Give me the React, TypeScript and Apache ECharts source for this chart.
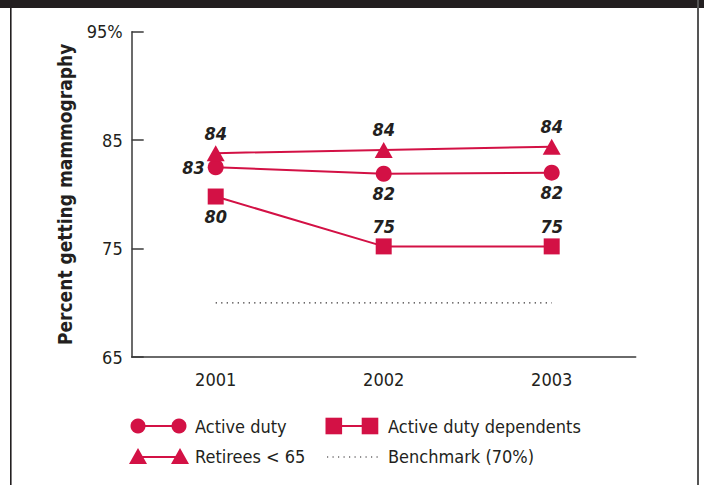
import React, { useEffect, useRef } from "react";
import * as echarts from "echarts";

const years = ["2001", "2002", "2003"];
const activeDuty = [82.5, 81.9, 82.0];
const activeDutyLabels = ["83", "82", "82"];
const dependents = [79.8, 75.2, 75.2];
const dependentsLabels = ["80", "75", "75"];
const retirees = [83.8, 84.1, 84.4];
const retireesLabels = ["84", "84", "84"];
const benchmark = [70, 70, 70];
const yTicks = [65, 75, 85, 95];

const RED = "#d31145";
const INK = "#231f20";
const FONT = "'DejaVu Sans Condensed', 'Liberation Sans', sans-serif";

export default function App() {
  const ref = useRef<HTMLDivElement>(null);
  useEffect(() => {
    if (!ref.current) return;
    const chart = echarts.init(ref.current, null, { renderer: "svg" });
    const labelStyle = {
      show: true,
      fontFamily: FONT,
      fontSize: 18,
      fontWeight: "bold" as const,
      fontStyle: "italic" as const,
      color: INK,
      distance: 3,
    };
    const mk = (vals: number[], labels: string[], positions: string[]) =>
      vals.map((v, i) => ({
        value: v,
        label: { ...labelStyle, position: positions[i], formatter: labels[i] },
      }));

    const legendY1 = 426;
    const legendY2 = 456;
    const legendFont = `18px ${FONT}`;
    chart.setOption({
      animation: false,
      textStyle: { fontFamily: FONT },
      grid: { left: 131.7, right: 68.3, top: 31.7, bottom: 128 },
      xAxis: {
        type: "category",
        data: years,
        boundaryGap: true,
        axisLine: { lineStyle: { color: "#3a3a3a", width: 1.5 } },
        axisTick: { inside: true, length: 6, lineStyle: { color: "#3a3a3a", width: 1.5 } },
        axisLabel: { color: INK, fontSize: 18, fontFamily: FONT, margin: 13 },
      },
      yAxis: {
        type: "value",
        min: 65,
        max: 95,
        interval: 10,
        splitLine: { show: false },
        axisLine: { show: true, lineStyle: { color: "#3a3a3a", width: 1.5 } },
        axisTick: { show: true, inside: true, length: 12, lineStyle: { color: "#3a3a3a", width: 1.5 } },
        axisLabel: {
          color: INK,
          fontSize: 18,
          fontFamily: FONT,
          margin: 9,
          formatter: (v: number) => (yTicks.includes(v) ? (v === 95 ? v + "%" : String(v)) : ""),
        },
        name: "Percent getting mammography",
        nameLocation: "middle",
        nameGap: 57,
        nameTextStyle: { color: INK, fontSize: 19, fontWeight: "bold", fontFamily: FONT },
      },
      series: [
        {
          name: "Benchmark (70%)",
          type: "line",
          data: benchmark,
          symbol: "none",
          lineStyle: { color: INK, width: 1.2, type: [1.2, 4.3] },
          z: 1,
        },
        {
          name: "Active duty dependents",
          type: "line",
          data: mk(dependents, dependentsLabels, ["bottom", "top", "top"]),
          symbol: "rect",
          symbolSize: 16,
          lineStyle: { color: RED, width: 2 },
          itemStyle: { color: RED },
        },
        {
          name: "Active duty",
          type: "line",
          data: mk(activeDuty, activeDutyLabels, ["left", "bottom", "bottom"]),
          symbol: "circle",
          symbolSize: 16,
          lineStyle: { color: RED, width: 2 },
          itemStyle: { color: RED },
        },
        {
          name: "Retirees < 65",
          type: "line",
          data: mk(retirees, retireesLabels, ["top", "top", "top"]),
          symbol: "triangle",
          symbolSize: [18, 16],
          lineStyle: { color: RED, width: 2 },
          itemStyle: { color: RED },
        },
      ],
      graphic: [
        { type: "rect", shape: { x: 0, y: 0, width: 704, height: 8 }, style: { fill: "#231f20" } },
        { type: "rect", shape: { x: 10, y: 0, width: 1.6, height: 485 }, style: { fill: "#231f20" } },
        { type: "rect", shape: { x: 697, y: 0, width: 2, height: 485 }, style: { fill: "#555" } },
        // legend row 1: Active duty
        { type: "line", shape: { x1: 138, y1: legendY1, x2: 179, y2: legendY1 }, style: { stroke: RED, lineWidth: 2 } },
        { type: "circle", shape: { cx: 138, cy: legendY1, r: 7.5 }, style: { fill: RED } },
        { type: "circle", shape: { cx: 179, cy: legendY1, r: 7.5 }, style: { fill: RED } },
        { type: "text", x: 195, y: legendY1, style: { text: "Active duty", fill: INK, font: legendFont, verticalAlign: "middle" } },
        // Active duty dependents
        { type: "line", shape: { x1: 334, y1: legendY1, x2: 370, y2: legendY1 }, style: { stroke: RED, lineWidth: 2 } },
        { type: "rect", shape: { x: 325.5, y: legendY1 - 8.3, width: 16.6, height: 16.6 }, style: { fill: RED } },
        { type: "rect", shape: { x: 361.7, y: legendY1 - 8.3, width: 16.6, height: 16.6 }, style: { fill: RED } },
        { type: "text", x: 388, y: legendY1, style: { text: "Active duty dependents", fill: INK, font: legendFont, verticalAlign: "middle" } },
        // legend row 2: Retirees
        { type: "line", shape: { x1: 138, y1: legendY2 + 1, x2: 180, y2: legendY2 + 1 }, style: { stroke: RED, lineWidth: 2 } },
        { type: "polygon", shape: { points: [[129, legendY2 + 8], [147, legendY2 + 8], [138, legendY2 - 8]] }, style: { fill: RED } },
        { type: "polygon", shape: { points: [[171, legendY2 + 8], [189, legendY2 + 8], [180, legendY2 - 8]] }, style: { fill: RED } },
        { type: "text", x: 195, y: legendY2, style: { text: "Retirees < 65", fill: INK, font: legendFont, verticalAlign: "middle" } },
        // Benchmark
        { type: "line", shape: { x1: 327, y1: legendY2 + 1, x2: 378, y2: legendY2 + 1 }, style: { stroke: INK, lineWidth: 1.2, lineDash: [1.2, 4.3] } },
        { type: "text", x: 388, y: legendY2, style: { text: "Benchmark (70%)", fill: INK, font: legendFont, verticalAlign: "middle" } },
      ],
    });
    return () => chart.dispose();
  }, []);
  return (
    <div
      ref={ref}
      style={{ position: "fixed", left: 0, top: 0, width: 704, height: 485, background: "#fff" }}
    />
  );
}
